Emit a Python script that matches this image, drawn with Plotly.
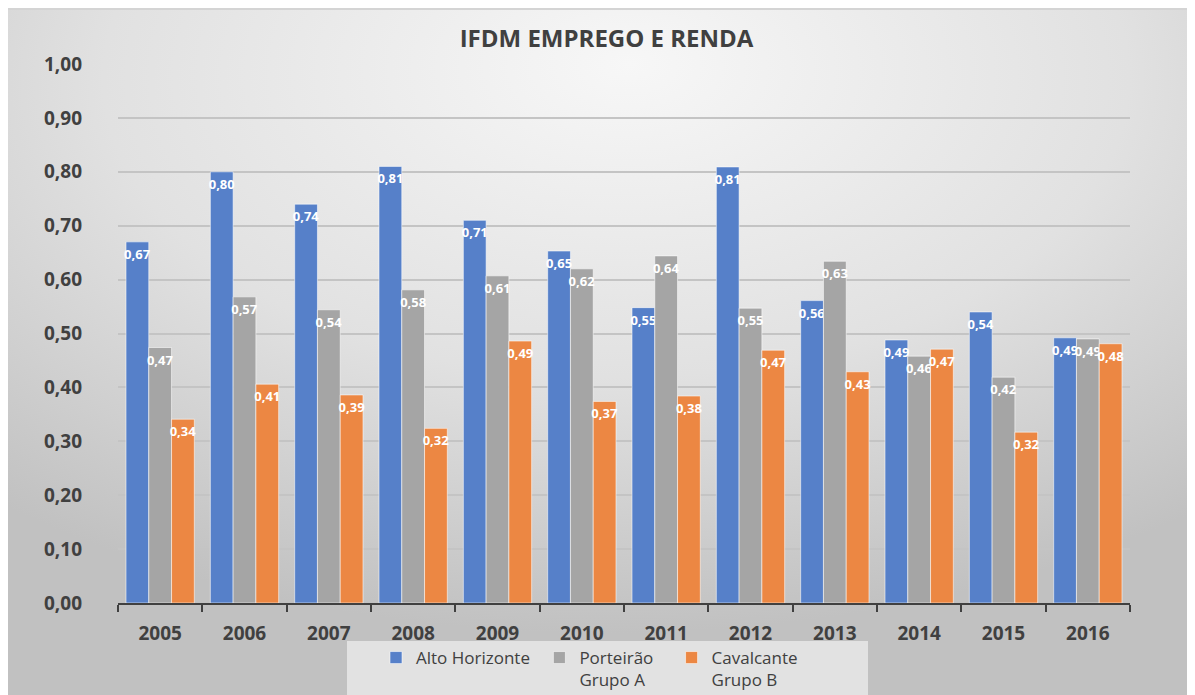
import plotly.graph_objects as go
import base64

years = ["2005", "2006", "2007", "2008", "2009", "2010", "2011", "2012", "2013", "2014", "2015", "2016"]
alto_horizonte = [0.67, 0.80, 0.74, 0.81, 0.71, 0.653, 0.548, 0.809, 0.561, 0.488, 0.540, 0.492]
porteirao = [0.474, 0.568, 0.544, 0.581, 0.607, 0.62, 0.644, 0.547, 0.634, 0.458, 0.419, 0.490]
cavalcante = [0.341, 0.406, 0.386, 0.324, 0.486, 0.374, 0.384, 0.469, 0.429, 0.471, 0.317, 0.481]
series_names = ["Alto Horizonte\u00a0", "Porteirão\u00a0\u00a0\u00a0<br>Grupo A", "Cavalcante<br>Grupo B"]
series_colors = ["#5680C9", "#A5A5A5", "#EC8743"]
y_ticks = [0.0, 0.1, 0.2, 0.3, 0.4, 0.5, 0.6, 0.7, 0.8, 0.9, 1.0]

W, H = 1195, 695
L, R, T, B = 110, 73, 56, 100
pw, ph = W - L - R, H - T - B

svg = f"""<svg xmlns='http://www.w3.org/2000/svg' width='{W}' height='{H}' viewBox='0 0 {W} {H}' preserveAspectRatio='none'>
<defs><radialGradient id='g' cx='50%' cy='12%' r='78%' fx='52%' fy='8%'>
<stop offset='0%' stop-color='#f7f7f7'/><stop offset='55%' stop-color='#e1e1e1'/><stop offset='100%' stop-color='#c1c1c1'/>
</radialGradient></defs>
<rect x='0' y='0' width='{W}' height='{H}' fill='url(#g)'/>
<line x1='0' y1='1' x2='{W}' y2='1' stroke='#d4d4d4' stroke-width='2'/>
</svg>"""
src = "data:image/svg+xml;base64," + base64.b64encode(svg.encode()).decode()

fig = go.Figure()
for name, vals, col in zip(series_names, [alto_horizonte, porteirao, cavalcante], series_colors):
    fig.add_trace(go.Bar(
        x=years, y=vals, name=name,
        marker=dict(color=col, line=dict(color="rgba(255,255,255,0.55)", width=1)),
        texttemplate="%{y:.2f}", textposition="inside", insidetextanchor="end",
        textangle=0, constraintext="none",
        textfont=dict(family="Open Sans", size=13, color="white", weight="bold"),
        hoverinfo="skip",
    ))

x0 = -L / pw
x1 = (W - L) / pw
y1 = 1 + T / ph
y0 = -B / ph

def px_x(page_x):
    return (page_x - 8 - L) / pw

def px_y(page_y):
    return (H - B - (page_y - 8)) / ph

fig.update_layout(
    width=W, height=H,
    margin=dict(l=L, r=R, t=T, b=B, autoexpand=False),
    separators=",.",
    paper_bgcolor="#d8d8d8",
    plot_bgcolor="rgba(0,0,0,0)",
    barmode="group", bargap=0.19, bargroupgap=0.0,
    title=dict(text="<b>IFDM EMPREGO E RENDA</b>", x=(606.5 - 8) / W, xanchor="center",
               y=1 - 30.5 / H, yanchor="middle",
               font=dict(family="Open Sans", size=24, color="#404040")),
    images=[dict(source=src, xref="paper", yref="paper", x=x0, y=y1, sizex=x1 - x0, sizey=y1 - y0,
                 xanchor="left", yanchor="top", sizing="stretch", layer="below")],
    shapes=[dict(type="rect", xref="paper", yref="paper", x0=px_x(347), x1=px_x(868),
                 y0=y0 - 0.05, y1=px_y(641), fillcolor="rgba(236,236,236,0.75)",
                 line=dict(width=0), layer="above")],
    legend=dict(orientation="h", x=px_x(376), xanchor="left", y=px_y(640), yanchor="top",
                bgcolor="rgba(0,0,0,0)", font=dict(family="Open Sans", size=17, color="#404040"),
                itemwidth=30, traceorder="normal", valign="top"),
    yaxis=dict(range=[0, 1], tickvals=y_ticks, tickformat=".2f", showgrid=True,
               gridcolor="#c4c4c4", gridwidth=1.5, zeroline=False, showline=False,
               ticks="", ticklabelstandoff=35, automargin=False,
               tickfont=dict(family="Open Sans", size=19, color="#404040", weight="bold")),
    xaxis=dict(type="category", showline=True, linecolor="#404040", linewidth=2,
               ticks="outside", tickson="boundaries", ticklen=7, tickwidth=2, tickcolor="#404040",
               ticklabelstandoff=12, automargin=False,
               tickfont=dict(family="Open Sans", size=19, color="#404040", weight="bold")),
)

fig.write_html("out.html")
